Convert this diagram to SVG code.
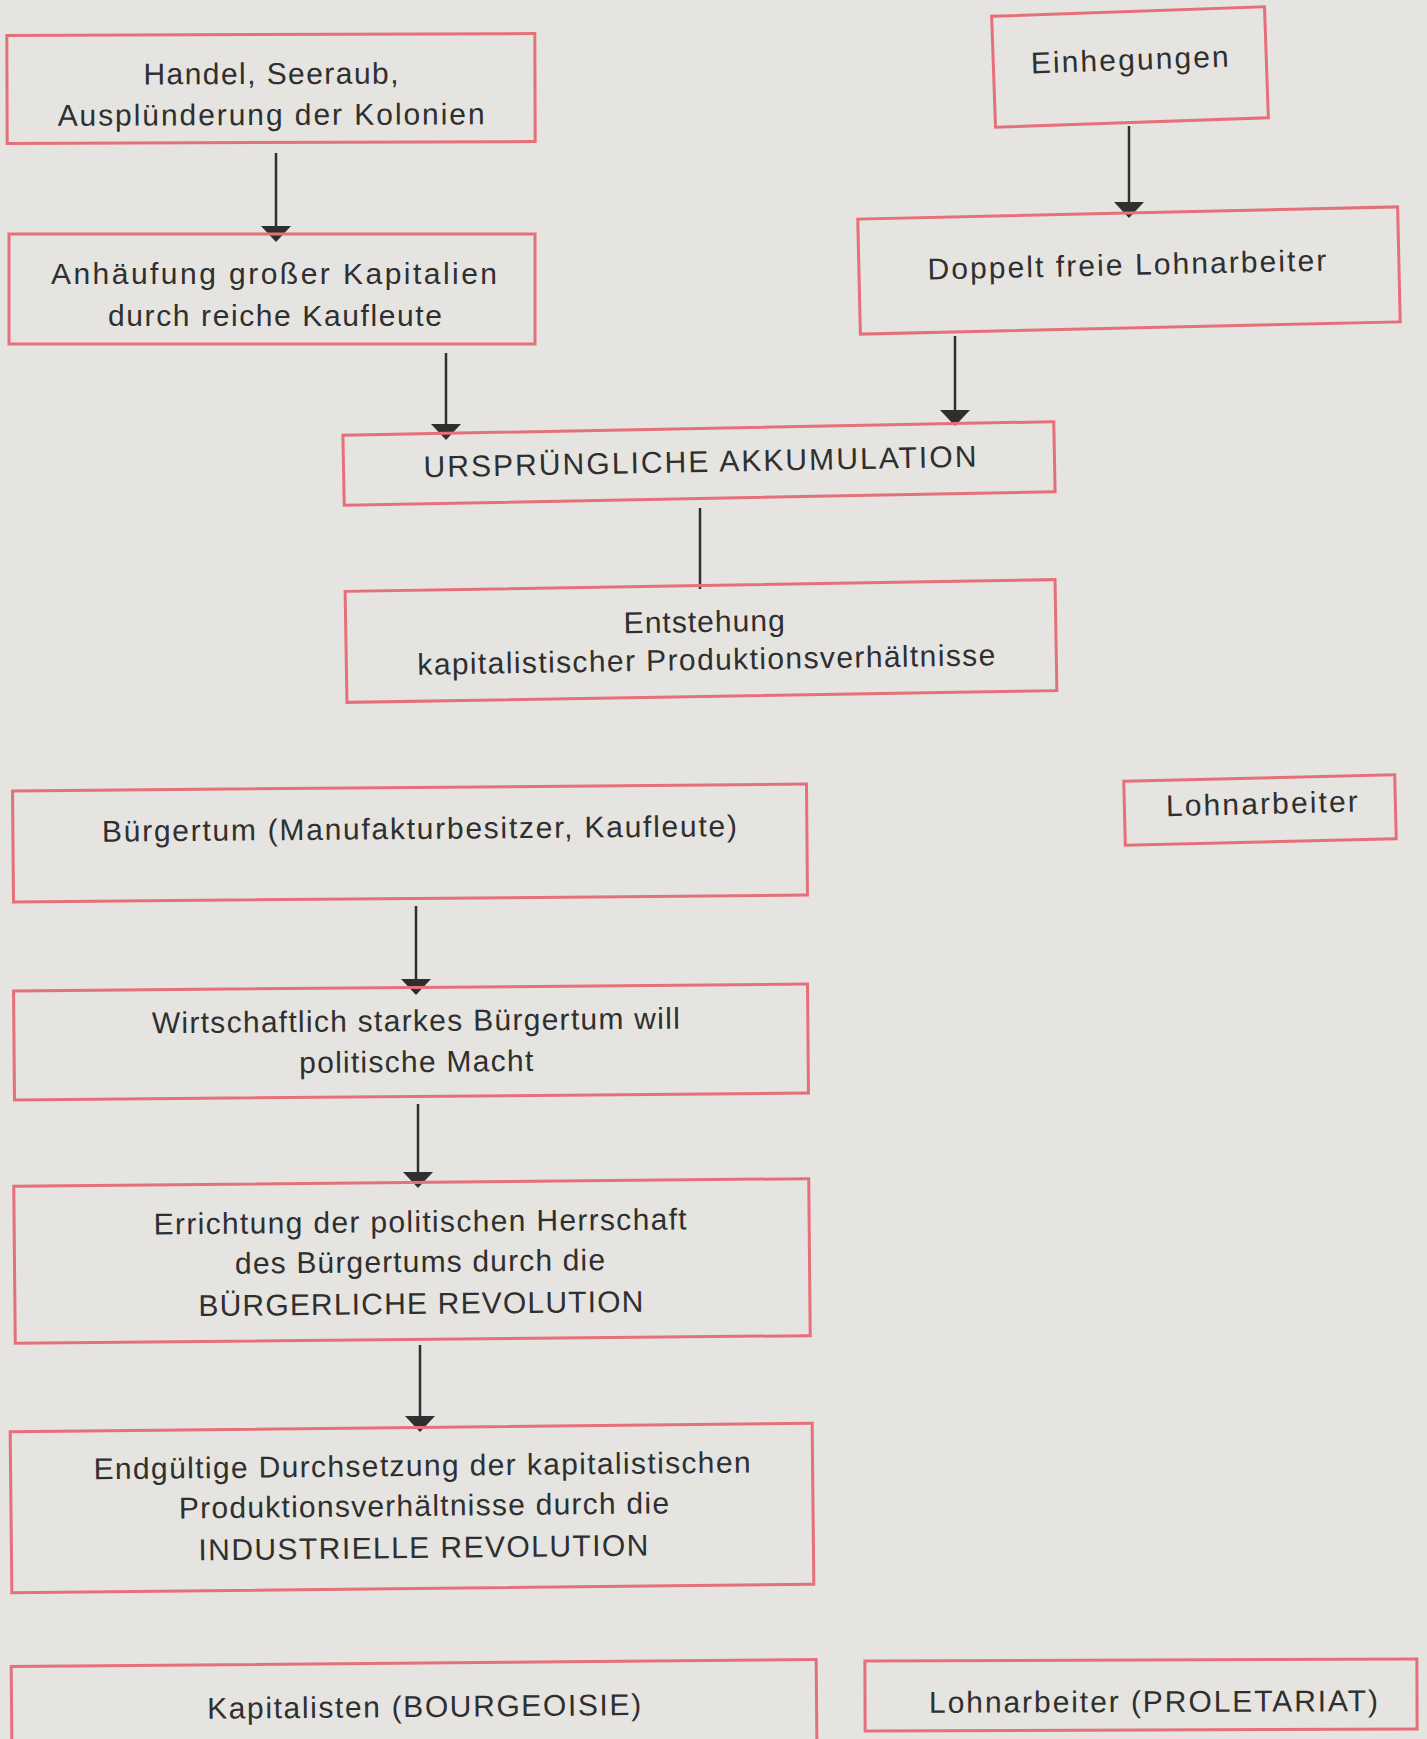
<svg xmlns="http://www.w3.org/2000/svg" width="1427" height="1739" viewBox="0 0 1427 1739">
<style>
.bg{fill:#e5e4e0}
.box{fill:none;stroke:#e6707a;stroke-width:3}
.t{font-family:"Liberation Sans",Arial,sans-serif;font-size:30px;fill:#2f2f2f;text-anchor:middle}
.c{stroke:#2f2f2f;stroke-width:2.5;fill:none}
</style>
<defs>
<marker id="ah" viewBox="0 0 16 30" refX="8" refY="15" markerWidth="16" markerHeight="30" orient="auto" markerUnits="userSpaceOnUse">
<path d="M0,0 L16,15 L0,30 Z" fill="#2f2f2f"/>
</marker>
</defs>
<rect class="bg" x="0" y="0" width="1427" height="1739"/>
<g id="connectors">
<line class="c" x1="276" y1="153" x2="276" y2="234" marker-end="url(#ah)"/>
<line class="c" x1="1129" y1="126" x2="1129" y2="210" marker-end="url(#ah)"/>
<line class="c" x1="446" y1="353" x2="446" y2="432" marker-end="url(#ah)"/>
<line class="c" x1="955" y1="336" x2="955" y2="418" marker-end="url(#ah)"/>
<line class="c" x1="700" y1="508" x2="700" y2="589"/>
<line class="c" x1="416" y1="906" x2="416" y2="987" marker-end="url(#ah)"/>
<line class="c" x1="418" y1="1104" x2="418" y2="1180" marker-end="url(#ah)"/>
<line class="c" x1="420" y1="1345" x2="420" y2="1424" marker-end="url(#ah)"/>
</g>
<g id="n-handel" transform="rotate(-0.2 271 88.5)">
<rect class="box" x="7" y="34.5" width="528" height="108"/>
<text class="t" x="271" y="84" textLength="255" lengthAdjust="spacing">Handel, Seeraub,</text>
<text class="t" x="271" y="125" textLength="427" lengthAdjust="spacing">Ausplünderung der Kolonien</text>
</g>
<g id="n-einhegungen" transform="rotate(-2 1130 67)">
<rect class="box" x="993.5" y="11.5" width="273" height="111"/>
<text class="t" x="1130" y="70" textLength="198" lengthAdjust="spacing">Einhegungen</text>
</g>
<g id="n-anhaeufung">
<rect class="box" x="9" y="234" width="526" height="110"/>
<text class="t" x="274" y="284" textLength="446" lengthAdjust="spacing">Anhäufung  großer  Kapitalien</text>
<text class="t" x="275" y="326" textLength="334" lengthAdjust="spacing">durch reiche Kaufleute</text>
</g>
<g id="n-doppelt" transform="rotate(-1.3 1129 270.5)">
<rect class="box" x="859" y="213" width="540" height="115"/>
<text class="t" x="1127" y="275" textLength="399" lengthAdjust="spacing">Doppelt freie Lohnarbeiter</text>
</g>
<g id="n-urspruenglich" transform="rotate(-1.1 699 463.5)">
<rect class="box" x="343.5" y="428.5" width="711" height="70"/>
<text class="t" x="700" y="472" textLength="553" lengthAdjust="spacing">URSPRÜNGLICHE   AKKUMULATION</text>
</g>
<g id="n-entstehung" transform="rotate(-0.95 701 641)">
<rect class="box" x="346" y="585.5" width="710" height="111"/>
<text class="t" x="704.5" y="632" textLength="161" lengthAdjust="spacing">Entstehung</text>
<text class="t" x="706" y="670" textLength="578" lengthAdjust="spacing">kapitalistischer  Produktionsverhältnisse</text>
</g>
<g id="n-buergertum" transform="rotate(-0.5 410 843)">
<rect class="box" x="13" y="787.5" width="794" height="111"/>
<text class="t" x="419.5" y="839" textLength="635" lengthAdjust="spacing">Bürgertum  (Manufakturbesitzer,  Kaufleute)</text>
</g>
<g id="n-lohnarbeiter" transform="rotate(-1.4 1260 810)">
<rect class="box" x="1124.5" y="778" width="271" height="64"/>
<text class="t" x="1262" y="814" textLength="192" lengthAdjust="spacing">Lohnarbeiter</text>
</g>
<g id="n-wirtschaftlich" transform="rotate(-0.5 411 1042)">
<rect class="box" x="14" y="987.5" width="794" height="109"/>
<text class="t" x="416" y="1031" textLength="528" lengthAdjust="spacing">Wirtschaftlich starkes Bürgertum will</text>
<text class="t" x="416" y="1072" textLength="234" lengthAdjust="spacing">politische Macht</text>
</g>
<g id="n-errichtung" transform="rotate(-0.55 412 1261)">
<rect class="box" x="14.5" y="1182.5" width="795" height="157"/>
<text class="t" x="420.5" y="1232" textLength="533" lengthAdjust="spacing">Errichtung der politischen Herrschaft</text>
<text class="t" x="420" y="1272" textLength="370" lengthAdjust="spacing">des Bürgertums durch die</text>
<text class="t" x="420.5" y="1314" textLength="445" lengthAdjust="spacing">BÜRGERLICHE   REVOLUTION</text>
</g>
<g id="n-endgueltig" transform="rotate(-0.6 412 1508)">
<rect class="box" x="11" y="1427.5" width="802" height="161"/>
<text class="t" x="422.5" y="1476" textLength="657" lengthAdjust="spacing">Endgültige Durchsetzung der kapitalistischen</text>
<text class="t" x="424" y="1516" textLength="490" lengthAdjust="spacing">Produktionsverhältnisse durch die</text>
<text class="t" x="423" y="1558" textLength="450" lengthAdjust="spacing">INDUSTRIELLE   REVOLUTION</text>
</g>
<g id="n-kapitalisten" transform="rotate(-0.5 414 1700)">
<rect class="box" x="11.5" y="1663" width="805" height="90"/>
<text class="t" x="424" y="1717" textLength="434" lengthAdjust="spacing">Kapitalisten (BOURGEOISIE)</text>
</g>
<g id="n-proletariat" transform="rotate(-0.2 1141 1695)">
<rect class="box" x="865" y="1660" width="552" height="70"/>
<text class="t" x="1153.5" y="1712" textLength="449" lengthAdjust="spacing">Lohnarbeiter (PROLETARIAT)</text>
</g>
</svg>
